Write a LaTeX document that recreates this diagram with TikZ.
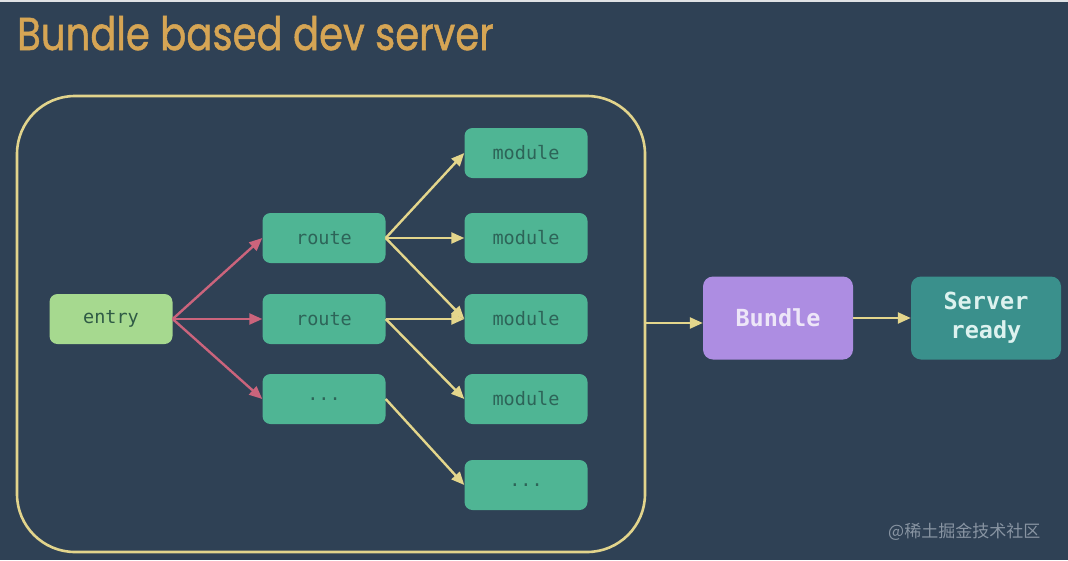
\documentclass[tikz,border=0pt]{standalone}
\usepackage{fontspec}
\setmainfont{Poppins}
\newfontfamily\titlef[FakeBold=1.2]{Poppins}
\newfontfamily\monof{DejaVu Sans Mono}
\newfontfamily\cjkf{Noto Sans CJK SC}
\usetikzlibrary{arrows.meta}
\definecolor{bg}{HTML}{2F4155}
\definecolor{titlegold}{HTML}{D6A554}
\definecolor{framey}{HTML}{E2D48C}
\definecolor{modfill}{HTML}{4FB594}
\definecolor{modtext}{HTML}{2D6458}
\definecolor{entryfill}{HTML}{A6D98F}
\definecolor{entrytext}{HTML}{2F5A45}
\definecolor{bundlefill}{HTML}{AD8DE2}
\definecolor{bundletext}{HTML}{EDE6F8}
\definecolor{readyfill}{HTML}{3A908C}
\definecolor{readytext}{HTML}{DDF2EF}
\definecolor{redarrow}{HTML}{CB647C}
\definecolor{yelarrow}{HTML}{E4D68C}
\definecolor{wmark}{HTML}{8894A2}
\tikzset{
  box/.style={rounded corners=8pt, minimum width=123pt, minimum height=50pt, inner sep=0pt,
    font=\monof\fontsize{18.5}{20}\selectfont},
  modbox/.style={box, fill=modfill, text=modtext},
  entrybox/.style={box, fill=entryfill, text=entrytext},
  bigbox/.style={rounded corners=10pt, minimum width=150pt, minimum height=83pt, inner sep=0pt,
    font=\monof\bfseries\fontsize{23.5}{29}\selectfont, align=center},
  redarr/.style={draw=redarrow, line width=2.4pt, -{Triangle[length=13pt,width=11pt]}},
  yelarr/.style={draw=yelarrow, line width=2.4pt, -{Triangle[length=13pt,width=11pt]}},
}
\begin{document}
\begin{tikzpicture}[x=1pt, y=-1pt]
\fill[bg] (0,0) rectangle (1068,560);
\fill[white!85!bg] (0,0) rectangle (1068,2);
\useasboundingbox (0,0) rectangle (1068,560);
\node[anchor=base west, text=titlegold, inner sep=0pt, xscale=0.84, font=\titlef\fontsize{46}{46}\selectfont] (title) at (17,50) {Bundle based dev server};
\node[draw=framey, line width=2.6pt, rounded corners=58pt, minimum width=628pt, minimum height=456pt] (frame) at (331,324) {};
\node[entrybox] (entry) at (111,319) {entry};
\node[modbox] (r1) at (324,238) {route};
\node[modbox] (r2) at (324,319) {route};
\node[modbox] (r3) at (324,399) {...};
\node[modbox] (m1) at (526,153) {module};
\node[modbox] (m2) at (526,238) {module};
\node[modbox] (m3) at (526,319) {module};
\node[modbox] (m4) at (526,399) {module};
\node[modbox] (m5) at (526,485) {...};
\node[bigbox, fill=bundlefill, text=bundletext] (bundle) at (778,318) {Bundle};
\node[bigbox, fill=readyfill, text=readytext] (ready) at (986,318) {Server\\ready};
\draw[redarr] (entry.east) -- (r1.west);
\draw[redarr] (entry.east) -- (r2.west);
\draw[redarr] (entry.east) -- (r3.west);
\draw[yelarr] (r1.east) -- (m1.west);
\draw[yelarr] (r1.east) -- (m2.west);
\draw[yelarr] (r1.east) -- (m3.west);
\draw[yelarr] (r2.east) -- (m3.west);
\draw[yelarr] (r2.east) -- (m4.west);
\draw[yelarr] (r3.east) -- (m5.west);
\draw[yelarr] (frame.east |- 0,323) coordinate (fe) -- (bundle.west |- fe);
\draw[yelarr] (bundle.east) -- (ready.west);
\node[anchor=base west, text=wmark, inner sep=0pt, font=\cjkf\fontsize{17}{17}\selectfont] (wm) at (888,537) {@稀土掘金技术社区};
\end{tikzpicture}
\end{document}
